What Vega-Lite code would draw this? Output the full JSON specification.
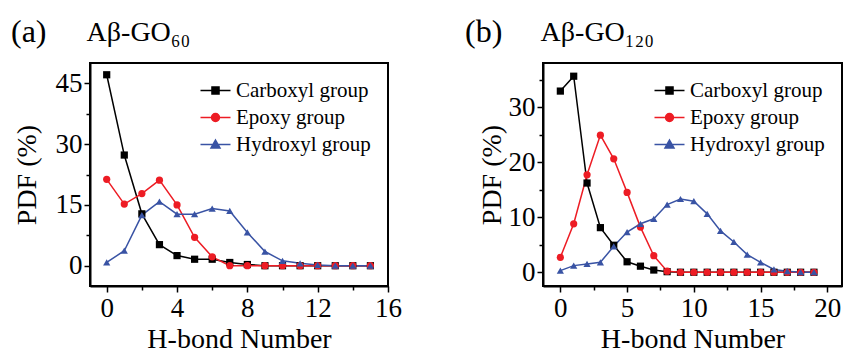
{
  "$schema": "https://vega.github.io/schema/vega-lite/v6.json",
  "background": "white",
  "padding": {"left": 10, "top": 15, "right": 0, "bottom": 0},
  "spacing": 61,
  "config": {
    "view": {"stroke": "black", "strokeWidth": 2},
    "font": "Liberation Serif",
    "axis": {
      "grid": false,
      "domainColor": "black", "domainWidth": 2,
      "tickColor": "black", "tickWidth": 1.5,
      "labelColor": "black", "labelFont": "Liberation Serif", "labelFontSize": 27,
      "titleColor": "black", "titleFont": "Liberation Serif", "titleFontSize": 28, "titleFontWeight": "normal",
      "labelOverlap": false, "labelFlush": false, "labelBound": false
    },
    "legend": {
      "orient": "top-right", "offset": 17, "padding": 0, "title": null,
      "labelFont": "Liberation Serif", "labelFontSize": 21, "labelColor": "black",
      "symbolSize": 225, "labelOffset": 10, "rowPadding": 5
    },
    "title": {
      "anchor": "start", "frame": "group", "font": "Liberation Serif", "fontSize": 32, "fontWeight": "normal", "color": "black",
      "subtitleFont": "Liberation Serif", "subtitleFontSize": 28, "subtitleColor": "black", "subtitlePadding": -30, "offset": 14
    }
  },
  "datasets": {
    "a": [
      {"g": "Carboxyl group", "n": 0, "p": 47.1}, {"g": "Carboxyl group", "n": 1, "p": 27.3}, {"g": "Carboxyl group", "n": 2, "p": 12.8}, {"g": "Carboxyl group", "n": 3, "p": 5.2},
      {"g": "Carboxyl group", "n": 4, "p": 2.5}, {"g": "Carboxyl group", "n": 5, "p": 1.6}, {"g": "Carboxyl group", "n": 6, "p": 1.6}, {"g": "Carboxyl group", "n": 7, "p": 0.8},
      {"g": "Carboxyl group", "n": 8, "p": 0.3}, {"g": "Carboxyl group", "n": 9, "p": 0}, {"g": "Carboxyl group", "n": 10, "p": 0}, {"g": "Carboxyl group", "n": 11, "p": 0},
      {"g": "Carboxyl group", "n": 12, "p": 0}, {"g": "Carboxyl group", "n": 13, "p": 0}, {"g": "Carboxyl group", "n": 14, "p": 0}, {"g": "Carboxyl group", "n": 15, "p": 0},
      {"g": "Epoxy group", "n": 0, "p": 21.3}, {"g": "Epoxy group", "n": 1, "p": 15.2}, {"g": "Epoxy group", "n": 2, "p": 17.8}, {"g": "Epoxy group", "n": 3, "p": 21.1},
      {"g": "Epoxy group", "n": 4, "p": 15.0}, {"g": "Epoxy group", "n": 5, "p": 7.0}, {"g": "Epoxy group", "n": 6, "p": 2.2}, {"g": "Epoxy group", "n": 7, "p": 0},
      {"g": "Epoxy group", "n": 8, "p": 0}, {"g": "Epoxy group", "n": 9, "p": 0}, {"g": "Epoxy group", "n": 10, "p": 0}, {"g": "Epoxy group", "n": 11, "p": 0},
      {"g": "Epoxy group", "n": 12, "p": 0}, {"g": "Epoxy group", "n": 13, "p": 0}, {"g": "Epoxy group", "n": 14, "p": 0}, {"g": "Epoxy group", "n": 15, "p": 0},
      {"g": "Hydroxyl group", "n": 0, "p": 0.8}, {"g": "Hydroxyl group", "n": 1, "p": 3.7}, {"g": "Hydroxyl group", "n": 2, "p": 12.5}, {"g": "Hydroxyl group", "n": 3, "p": 15.8},
      {"g": "Hydroxyl group", "n": 4, "p": 12.7}, {"g": "Hydroxyl group", "n": 5, "p": 12.7}, {"g": "Hydroxyl group", "n": 6, "p": 14.1}, {"g": "Hydroxyl group", "n": 7, "p": 13.5},
      {"g": "Hydroxyl group", "n": 8, "p": 8.2}, {"g": "Hydroxyl group", "n": 9, "p": 3.5}, {"g": "Hydroxyl group", "n": 10, "p": 1.2}, {"g": "Hydroxyl group", "n": 11, "p": 0.6},
      {"g": "Hydroxyl group", "n": 12, "p": 0.2}, {"g": "Hydroxyl group", "n": 13, "p": 0}, {"g": "Hydroxyl group", "n": 14, "p": 0}, {"g": "Hydroxyl group", "n": 15, "p": 0}
    ],
    "b": [
      {"g": "Carboxyl group", "n": 0, "p": 32.9}, {"g": "Carboxyl group", "n": 1, "p": 35.6}, {"g": "Carboxyl group", "n": 2, "p": 16.2}, {"g": "Carboxyl group", "n": 3, "p": 8.1},
      {"g": "Carboxyl group", "n": 4, "p": 4.9}, {"g": "Carboxyl group", "n": 5, "p": 1.9}, {"g": "Carboxyl group", "n": 6, "p": 1.1}, {"g": "Carboxyl group", "n": 7, "p": 0.4},
      {"g": "Carboxyl group", "n": 8, "p": 0.1}, {"g": "Carboxyl group", "n": 9, "p": 0}, {"g": "Carboxyl group", "n": 10, "p": 0}, {"g": "Carboxyl group", "n": 11, "p": 0},
      {"g": "Carboxyl group", "n": 12, "p": 0}, {"g": "Carboxyl group", "n": 13, "p": 0}, {"g": "Carboxyl group", "n": 14, "p": 0}, {"g": "Carboxyl group", "n": 15, "p": 0},
      {"g": "Carboxyl group", "n": 16, "p": 0}, {"g": "Carboxyl group", "n": 17, "p": 0}, {"g": "Carboxyl group", "n": 18, "p": 0}, {"g": "Carboxyl group", "n": 19, "p": 0},
      {"g": "Epoxy group", "n": 0, "p": 2.7}, {"g": "Epoxy group", "n": 1, "p": 8.8}, {"g": "Epoxy group", "n": 2, "p": 17.7}, {"g": "Epoxy group", "n": 3, "p": 24.9},
      {"g": "Epoxy group", "n": 4, "p": 20.6}, {"g": "Epoxy group", "n": 5, "p": 14.5}, {"g": "Epoxy group", "n": 6, "p": 8.2}, {"g": "Epoxy group", "n": 7, "p": 3.0},
      {"g": "Epoxy group", "n": 8, "p": 0.2}, {"g": "Epoxy group", "n": 9, "p": 0}, {"g": "Epoxy group", "n": 10, "p": 0}, {"g": "Epoxy group", "n": 11, "p": 0},
      {"g": "Epoxy group", "n": 12, "p": 0}, {"g": "Epoxy group", "n": 13, "p": 0}, {"g": "Epoxy group", "n": 14, "p": 0}, {"g": "Epoxy group", "n": 15, "p": 0},
      {"g": "Epoxy group", "n": 16, "p": 0}, {"g": "Epoxy group", "n": 17, "p": 0}, {"g": "Epoxy group", "n": 18, "p": 0}, {"g": "Epoxy group", "n": 19, "p": 0},
      {"g": "Hydroxyl group", "n": 0, "p": 0.3}, {"g": "Hydroxyl group", "n": 1, "p": 1.2}, {"g": "Hydroxyl group", "n": 2, "p": 1.5}, {"g": "Hydroxyl group", "n": 3, "p": 1.8},
      {"g": "Hydroxyl group", "n": 4, "p": 4.7}, {"g": "Hydroxyl group", "n": 5, "p": 7.3}, {"g": "Hydroxyl group", "n": 6, "p": 8.8}, {"g": "Hydroxyl group", "n": 7, "p": 9.7},
      {"g": "Hydroxyl group", "n": 8, "p": 12.3}, {"g": "Hydroxyl group", "n": 9, "p": 13.3}, {"g": "Hydroxyl group", "n": 10, "p": 12.9}, {"g": "Hydroxyl group", "n": 11, "p": 10.6},
      {"g": "Hydroxyl group", "n": 12, "p": 7.5}, {"g": "Hydroxyl group", "n": 13, "p": 5.5}, {"g": "Hydroxyl group", "n": 14, "p": 3.2}, {"g": "Hydroxyl group", "n": 15, "p": 1.8},
      {"g": "Hydroxyl group", "n": 16, "p": 0.5}, {"g": "Hydroxyl group", "n": 17, "p": 0.2}, {"g": "Hydroxyl group", "n": 18, "p": 0}, {"g": "Hydroxyl group", "n": 19, "p": 0}
    ]
  },
  "hconcat": [
    {
      "width": 298, "height": 223,
      "data": {"name": "a"},
      "title": {"text": "(a)", "subtitle": "\u200b\u2003\u2003\u2002\u2009Aβ-GO₆₀", "dx": -79},
      "encoding": {
        "x": {"field": "n", "type": "quantitative", "scale": {"domain": [-0.95, 16], "nice": false, "zero": false},
          "axis": {"title": "H-bond Number", "values": [0, 2, 4, 6, 8, 10, 12, 14, 16],
            "labelExpr": "datum.value % 4 === 0 ? datum.label : ''",
            "tickSize": {"condition": {"test": "datum.value % 4 === 0", "value": 6}, "value": 4},
            "labelPadding": 3, "titlePadding": 4}},
        "y": {"field": "p", "type": "quantitative", "scale": {"domain": [-5, 50], "nice": false, "zero": false},
          "axis": {"title": "PDF (%)", "values": [0, 7.5, 15, 22.5, 30, 37.5, 45],
            "labelExpr": "datum.value % 15 === 0 ? datum.label : ''",
            "tickSize": {"condition": {"test": "datum.value % 15 === 0", "value": 6}, "value": 4},
            "labelPadding": 2, "titlePadding": 14}},
        "color": {"field": "g", "type": "nominal",
          "scale": {"domain": ["Carboxyl group", "Epoxy group", "Hydroxyl group"], "range": ["#000000", "#ed1c24", "#3953a4"]},
          "legend": {"encode": {"symbols": {"update": {
            "shape": {"signal": "datum.value === 'Carboxyl group' ? 'M-2,0H2M-0.47,-0.47H0.47V0.47H-0.47Z' : datum.value === 'Epoxy group' ? 'M-2,0H2M-0.53,0A0.53,0.53,0,1,0,0.53,0A0.53,0.53,0,1,0,-0.53,0Z' : 'M-2,0H2M0,-0.6L0.6,0.45H-0.6Z'"},
            "fill": {"signal": "datum.value === 'Carboxyl group' ? '#000000' : datum.value === 'Epoxy group' ? '#ed1c24' : '#3953a4'"},
            "stroke": {"signal": "datum.value === 'Carboxyl group' ? '#000000' : datum.value === 'Epoxy group' ? '#ed1c24' : '#3953a4'"},
            "strokeWidth": {"value": 1.5},
            "opacity": {"value": 1}, "fillOpacity": {"value": 1}, "strokeOpacity": {"value": 1}}}}}}
      },
      "layer": [
        {"mark": {"type": "line", "strokeWidth": 1.5}},
        {"mark": {"type": "point", "filled": true, "opacity": 1, "size": 52},
          "encoding": {"shape": {"condition": [{"test": "datum.g === 'Carboxyl group'", "value": "square"}, {"test": "datum.g === 'Epoxy group'", "value": "circle"}], "value": "triangle-up"}}}
      ]
    },
    {
      "width": 299, "height": 223,
      "data": {"name": "b"},
      "title": {"text": "(b)", "subtitle": "\u200b\u2003\u2003\u2002\u2009Aβ-GO₁₂₀", "dx": -78},
      "encoding": {
        "x": {"field": "n", "type": "quantitative", "scale": {"domain": [-1.3, 21.1], "nice": false, "zero": false},
          "axis": {"title": "H-bond Number", "values": [0, 2.5, 5, 7.5, 10, 12.5, 15, 17.5, 20],
            "labelExpr": "datum.value % 5 === 0 ? datum.label : ''",
            "tickSize": {"condition": {"test": "datum.value % 5 === 0", "value": 6}, "value": 4},
            "labelPadding": 3, "titlePadding": 4}},
        "y": {"field": "p", "type": "quantitative", "scale": {"domain": [-2.5, 38], "nice": false, "zero": false},
          "axis": {"title": "PDF (%)", "values": [0, 5, 10, 15, 20, 25, 30, 35],
            "labelExpr": "datum.value % 10 === 0 ? datum.label : ''",
            "tickSize": {"condition": {"test": "datum.value % 10 === 0", "value": 6}, "value": 4},
            "labelPadding": 2, "titlePadding": 2}},
        "color": {"field": "g", "type": "nominal",
          "scale": {"domain": ["Carboxyl group", "Epoxy group", "Hydroxyl group"], "range": ["#000000", "#ed1c24", "#3953a4"]},
          "legend": {"encode": {"symbols": {"update": {
            "shape": {"signal": "datum.value === 'Carboxyl group' ? 'M-2,0H2M-0.47,-0.47H0.47V0.47H-0.47Z' : datum.value === 'Epoxy group' ? 'M-2,0H2M-0.53,0A0.53,0.53,0,1,0,0.53,0A0.53,0.53,0,1,0,-0.53,0Z' : 'M-2,0H2M0,-0.6L0.6,0.45H-0.6Z'"},
            "fill": {"signal": "datum.value === 'Carboxyl group' ? '#000000' : datum.value === 'Epoxy group' ? '#ed1c24' : '#3953a4'"},
            "stroke": {"signal": "datum.value === 'Carboxyl group' ? '#000000' : datum.value === 'Epoxy group' ? '#ed1c24' : '#3953a4'"},
            "strokeWidth": {"value": 1.5},
            "opacity": {"value": 1}, "fillOpacity": {"value": 1}, "strokeOpacity": {"value": 1}}}}}}
      },
      "layer": [
        {"mark": {"type": "line", "strokeWidth": 1.5}},
        {"mark": {"type": "point", "filled": true, "opacity": 1, "size": 52},
          "encoding": {"shape": {"condition": [{"test": "datum.g === 'Carboxyl group'", "value": "square"}, {"test": "datum.g === 'Epoxy group'", "value": "circle"}], "value": "triangle-up"}}}
      ]
    }
  ],
  "resolve": {"scale": {"x": "independent", "y": "independent", "color": "independent"}, "legend": {"color": "independent"}}
}
